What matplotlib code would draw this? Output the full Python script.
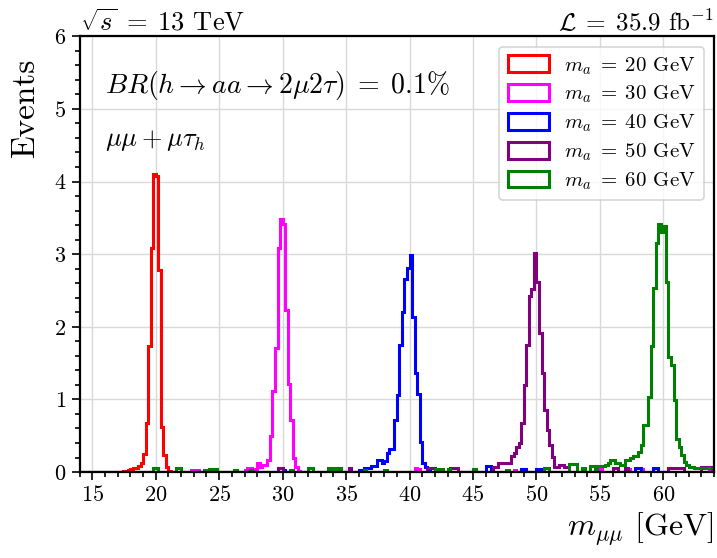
import numpy as np
import matplotlib
matplotlib.use("Agg")
import matplotlib.pyplot as plt
from matplotlib.ticker import MultipleLocator

plt.rcParams['font.family'] = 'serif'
plt.rcParams['font.serif'] = ['cmr10']
plt.rcParams['mathtext.fontset'] = 'cm'
plt.rcParams['axes.formatter.use_mathtext'] = True

# m_mumu histograms, 0.2 GeV bins from 14 to 64 GeV
# (lower bin edge, events) for each signal mass point
ma20_lo = [17.4, 17.6, 17.8, 18.0, 18.2, 18.4, 18.6, 18.8, 19.0, 19.2, 19.4, 19.6,
           19.8, 20.0, 20.2, 20.4, 20.6, 20.8, 21.0]
ma20_ev = [0.02, 0.02, 0.03, 0.04, 0.05, 0.06, 0.09, 0.12, 0.25, 0.67, 1.73, 3.09,
           4.10, 4.08, 2.78, 0.62, 0.23, 0.07, 0.02]

ma30_lo = [22.8, 23.2, 27.0, 27.2, 27.4, 27.6, 28.0, 28.2, 28.4, 28.6, 28.8, 29.0,
           29.2, 29.4, 29.6, 29.8, 30.0, 30.2, 30.4, 30.6, 30.8, 31.0, 31.2,
           40.4, 40.6, 48.2, 55.0, 57.2, 58.2, 63.6, 63.8]
ma30_ev = [0.03, 0.03, 0.03, 0.05, 0.05, 0.04, 0.13, 0.07, 0.10, 0.10, 0.17, 0.50,
           1.11, 1.71, 3.09, 3.48, 3.42, 2.23, 1.21, 0.71, 0.19, 0.07, 0.02,
           0.05, 0.04, 0.03, 0.05, 0.04, 0.04, 0.05, 0.05]

ma40_lo = [30.0, 34.2, 36.0, 36.2, 36.4, 36.6, 36.8, 37.0, 37.2, 37.4, 37.6, 37.8,
           38.0, 38.2, 38.4, 38.6, 38.8, 39.0, 39.2, 39.4, 39.6, 39.8, 40.0, 40.2,
           40.4, 40.6, 40.8, 41.0, 41.2, 41.4, 46.0, 46.2, 48.8, 49.0, 50.0, 50.2,
           57.8, 58.0, 59.2, 59.4]
ma40_ev = [0.03, 0.03, 0.03, 0.03, 0.06, 0.06, 0.06, 0.08, 0.08, 0.16, 0.16, 0.13,
           0.15, 0.26, 0.32, 0.32, 0.71, 1.06, 1.75, 2.21, 2.66, 2.81, 2.99, 2.13,
           1.36, 1.08, 0.41, 0.13, 0.07, 0.03, 0.08, 0.08, 0.04, 0.04, 0.04, 0.04,
           0.05, 0.05, 0.05, 0.05]

ma50_lo = [29.6, 29.8, 34.4, 35.2, 41.4, 41.6, 41.8, 43.2, 43.4, 43.6, 46.6, 46.8,
           47.0, 47.2, 47.4, 47.6, 47.8, 48.0, 48.2, 48.4, 48.6, 48.8, 49.0, 49.2,
           49.4, 49.6, 49.8, 50.0, 50.2, 50.4, 50.6, 50.8, 51.0, 51.2, 51.4, 51.6,
           51.8, 52.0, 52.2, 52.4, 56.0, 56.2, 57.0, 60.4, 60.6, 60.8, 61.0, 61.2,
           61.4, 63.0, 63.2, 63.4, 63.6]
ma50_ev = [0.05, 0.05, 0.05, 0.05, 0.05, 0.05, 0.05, 0.06, 0.06, 0.06, 0.07, 0.07,
           0.13, 0.13, 0.13, 0.13, 0.13, 0.22, 0.26, 0.35, 0.40, 0.68, 1.20, 1.75,
           2.42, 2.52, 3.01, 2.62, 1.91, 1.36, 0.86, 0.58, 0.37, 0.21, 0.07, 0.07,
           0.10, 0.10, 0.07, 0.07, 0.06, 0.06, 0.06, 0.06, 0.06, 0.06, 0.06, 0.06,
           0.06, 0.07, 0.07, 0.07, 0.07]

ma60_lo = [19.8, 20.0, 21.6, 21.8, 23.8, 24.2, 24.6, 26.2, 27.4, 30.6, 32.0, 32.2,
           33.6, 34.0, 34.4, 36.4, 38.0, 42.0, 42.4, 43.0, 45.0, 47.6, 50.6, 50.8,
           52.6, 52.8, 53.0, 53.6, 54.2, 54.4, 54.8, 55.0, 55.2, 55.4, 55.6, 55.8,
           56.0, 56.2, 56.4, 56.6, 56.8, 57.0, 57.2, 57.4, 57.6, 57.8, 58.0, 58.2,
           58.4, 58.6, 58.8, 59.0, 59.2, 59.4, 59.6, 59.8, 60.0, 60.2, 60.4, 60.6,
           60.8, 61.0, 61.2, 61.4, 61.6, 61.8, 62.0, 62.2, 62.4, 62.6, 62.8, 63.0,
           63.2, 63.4, 63.6, 63.8]
ma60_ev = [0.05, 0.05, 0.05, 0.05, 0.03, 0.04, 0.04, 0.03, 0.03, 0.03, 0.05, 0.05,
           0.05, 0.05, 0.05, 0.03, 0.03, 0.04, 0.04, 0.04, 0.04, 0.03, 0.05, 0.05,
           0.11, 0.11, 0.11, 0.05, 0.08, 0.08, 0.08, 0.08, 0.08, 0.10, 0.12, 0.16,
           0.16, 0.12, 0.12, 0.10, 0.10, 0.16, 0.16, 0.19, 0.22, 0.22, 0.28, 0.37,
           0.65, 0.65, 1.04, 1.73, 2.53, 3.15, 3.41, 3.31, 3.39, 2.62, 1.59, 1.47,
           0.99, 0.46, 0.35, 0.23, 0.14, 0.10, 0.07, 0.07, 0.05, 0.05, 0.05, 0.05,
           0.05, 0.05, 0.05, 0.05]

masses = [20, 30, 40, 50, 60]
colors = ['red', 'magenta', 'blue', 'purple', 'green']
samples = [(ma20_lo, ma20_ev), (ma30_lo, ma30_ev), (ma40_lo, ma40_ev),
           (ma50_lo, ma50_ev), (ma60_lo, ma60_ev)]

edges = np.round(np.arange(14.0, 64.0001, 0.2), 1)
centers = 0.5 * (edges[:-1] + edges[1:])

fig = plt.figure(figsize=(7.17, 5.58), dpi=100)
ax = fig.add_axes([0.111, 0.154, 0.885, 0.781])

for m, c, (lo, ev) in zip(masses, colors, samples):
    w = np.zeros(len(centers))
    idx = np.round((np.array(lo) - 14.0) / 0.2).astype(int)
    w[idx] = ev
    ax.hist(centers, bins=edges, weights=w, histtype='step', color=c, lw=2.2,
            label=r'$m_a\;=\;%d$ GeV' % m)

ax.set_xlim(14, 64)
ax.set_ylim(0, 6)
ax.xaxis.set_major_locator(MultipleLocator(5))
ax.xaxis.set_minor_locator(MultipleLocator(1))
ax.yaxis.set_major_locator(MultipleLocator(1))
ax.yaxis.set_minor_locator(MultipleLocator(0.2))
ax.tick_params(which='both', direction='out', labelsize=16, width=1.2)
ax.tick_params(which='major', length=6)
ax.tick_params(which='minor', length=3.5)
ax.grid(True, which='major', color='#d9d9d9', lw=1)
ax.set_axisbelow(True)
for s in ax.spines.values():
    s.set_linewidth(1.6)

ax.set_ylabel('Events', fontsize=24)
ax.yaxis.set_label_coords(-0.062, 0.837)
ax.set_xlabel(r'$m_{\mu\mu}$ [GeV]', fontsize=23, loc='right')
ax.set_title(r'$\sqrt{s}\;=\;13$ TeV', loc='left', fontsize=19, pad=4)
ax.set_title(r'$\mathcal{L}\;=\;35.9$ fb$^{-1}$', loc='right', fontsize=18, pad=4)

ax.text(0.04, 0.888, r'$BR(h \rightarrow aa \rightarrow 2\mu 2\tau)\;=\;0.1\%$',
        transform=ax.transAxes, fontsize=20, va='center')
ax.text(0.04, 0.761, r'$\mu\mu + \mu\tau_h$', transform=ax.transAxes,
        fontsize=19, va='center')

leg = ax.legend(loc='upper right', fontsize=15, frameon=True, fancybox=True,
                edgecolor='#cccccc', handlelength=2.0, handleheight=0.85,
                handletextpad=0.7, borderpad=0.4, labelspacing=0.35,
                borderaxespad=0.5)
leg.get_frame().set_linewidth(1.2)

fig.savefig('out.png', dpi=100)
